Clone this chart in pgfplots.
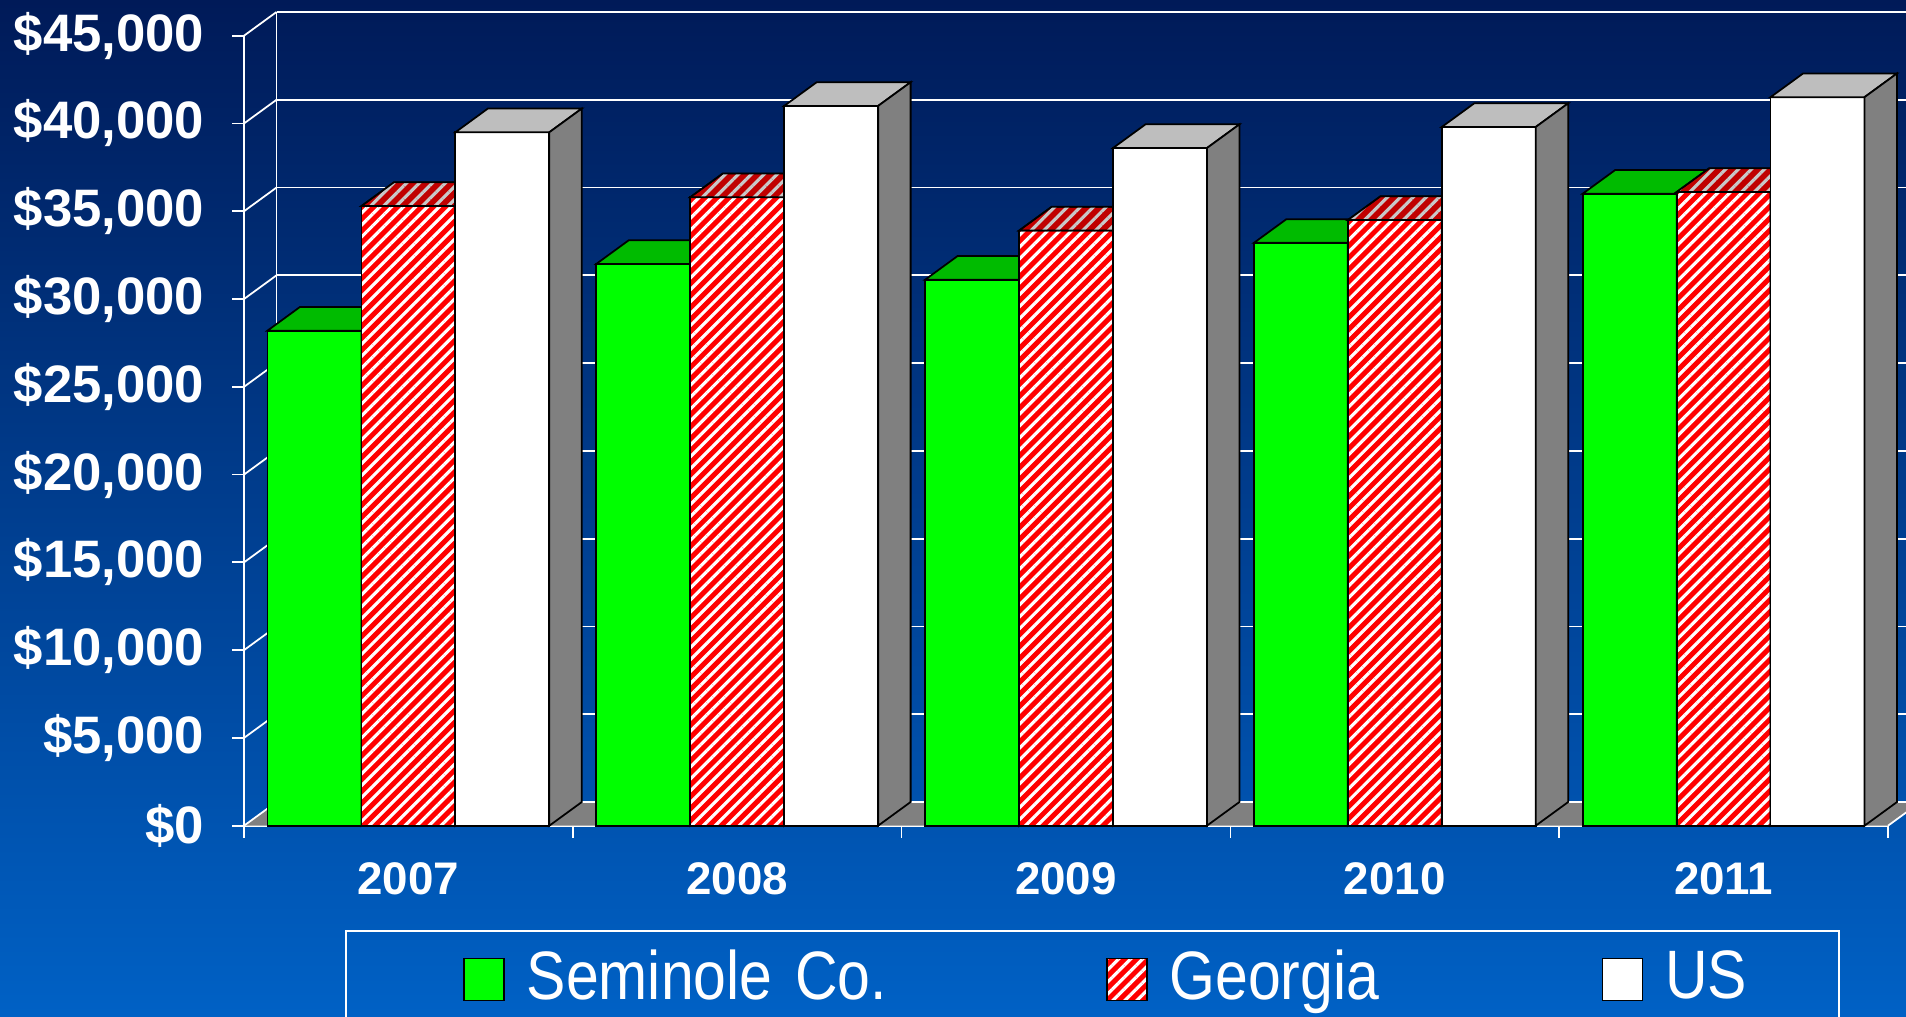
\documentclass[border=0pt]{standalone}
\usepackage{fontspec}
\setmainfont{Liberation Sans}
\newfontfamily\narrowfont[FakeStretch=0.86]{Liberation Sans}
\usepackage{pgfplots}
\pgfplotsset{compat=1.18}
\usepackage{pgfplotstable}
\usetikzlibrary{patterns.meta}

\definecolor{bgtop}{RGB}{0,26,88}
\definecolor{bgbot}{RGB}{0,97,197}
\definecolor{brgreen}{RGB}{0,255,0}
\definecolor{topgreen}{RGB}{0,187,0}
\definecolor{sidegreen}{RGB}{0,140,0}
\definecolor{brred}{RGB}{255,0,0}
\definecolor{topred}{RGB}{192,0,0}
\definecolor{stripetop}{RGB}{200,200,200}
\definecolor{topgray}{RGB}{190,190,190}
\definecolor{sidegray}{RGB}{128,128,128}
\definecolor{floorgray}{RGB}{128,128,128}

\pgfplotstableread{
idx v
0 28200
1 32000
2 31100
3 33200
4 36000
}\seminole
\pgfplotstableread{
idx v
0 35300
1 35800
2 33900
3 34500
4 36100
}\georgia
\pgfplotstableread{
idx v
0 39500
1 41000
2 38600
3 39800
4 41500
}\us

\def\hw{0.4697}
\def\ddx{0.325}
\def\ddy{0.237}

\tikzset{
  redstripes/.style={preaction={fill=brred},pattern={Lines[angle=45,distance=2.4pt,line width=0.9pt]},pattern color=white},
  topstripes/.style={preaction={fill=topred},pattern={Lines[angle=45,distance=2.6pt,line width=0.9pt]},pattern color=stripetop},
  barline/.style={draw=black,line width=0.5pt},
}

\pgfplotsset{
  bar3d/.style n args={3}{%
    scatter, only marks, mark=*, mark size=0pt,
    mark options={draw=none,fill=none},
    visualization depends on={\thisrow{v} \as \barval},
    scatter/@pre marker code/.code={%
      \begingroup
      \pgfkeys{/pgf/fpu=true,/pgf/fpu/output format=fixed}%
      \pgfmathparse{\barval*7.90/45000}%
      \xdef\barh{\pgfmathresult cm}%
      \endgroup
      \path[#1] (-\hw cm,0pt) rectangle (\hw cm,-\barh);
      \path[#2] (-\hw cm,0pt) -- (\hw cm,0pt) -- (\hw cm+\ddx cm,\ddy cm) -- (-\hw cm+\ddx cm,\ddy cm) -- cycle;
      \path[#3] (\hw cm,0pt) -- (\hw cm+\ddx cm,\ddy cm) -- (\hw cm+\ddx cm,\ddy cm-\barh) -- (\hw cm,-\barh) -- cycle;
    },
    scatter/@post marker code/.code={},
  },
}

\begin{document}
\begin{tikzpicture}
\shade[top color=bgtop, bottom color=bgbot] (0,0) rectangle (19.06cm,10.16cm);
\begin{axis}[
  scale only axis, width=16.44cm, height=7.90cm,
  at={(2.44cm,1.903cm)}, anchor=south west,
  xmin=0, xmax=5, ymin=0, ymax=45000,
  scaled y ticks=false,
  clip=false,
  axis lines*=left,
  axis line style={white, line width=0.5pt},
  tick style={white, line width=0.5pt},
  tick align=outside,
  major tick length=0.12cm,
  xtick={0,1,2,3,4,5}, xticklabels={},
  extra x ticks={0.5,1.5,2.5,3.5,4.5},
  extra x tick labels={2007,2008,2009,2010,2011},
  extra x tick style={major tick length=0pt},
  xticklabel style={anchor=base, yshift=-0.69cm, inner sep=0pt, text=white, font=\fontsize{13}{16}\selectfont\bfseries},
  ytick={0,5000,10000,15000,20000,25000,30000,35000,40000,45000},
  yticklabels={{\$0},{\$5,000},{\$10,000},{\$15,000},{\$20,000},{\$25,000},{\$30,000},{\$35,000},{\$40,000},{\$45,000}},
  yticklabel style={anchor=east, xshift=-0.27cm, inner sep=0pt, text=white, font=\fontsize{15}{18}\selectfont\bfseries},
  legend columns=3,
  legend cell align=left,
  legend style={at={(axis description cs:0.1332,-0.1917)}, anchor=west, draw=none, fill=none,
    inner sep=0pt, outer sep=0pt,
    nodes={inner sep=0pt, outer sep=0pt, text=white, font=\narrowfont\fontsize{19.5}{22}\selectfont},
    /tikz/every odd column/.append style={column sep=0.22cm},
    /tikz/column 2/.style={text width=5.79cm},
    /tikz/column 4/.style={text width=4.32cm}},
]
% floor
\fill[floorgray] (axis cs:0,0) -- (axis cs:5,0) -- ++(\ddx cm,\ddy cm) -- ([shift={(\ddx cm,\ddy cm)}]axis cs:0,0) -- cycle;
% walls and grid
\pgfplotsinvokeforeach{0,5000,10000,15000,20000,25000,30000,35000,40000,45000}{
  \draw[white, line width=0.5pt] ([shift={(\ddx cm,\ddy cm)}]axis cs:0,#1) -- ([shift={(\ddx cm,\ddy cm)}]axis cs:5,#1);
  \draw[white, line width=0.5pt] (axis cs:0,#1) -- ++(\ddx cm,\ddy cm);
}
\draw[white, line width=0.5pt] ([shift={(\ddx cm,\ddy cm)}]axis cs:0,0) -- ([shift={(\ddx cm,\ddy cm)}]axis cs:0,45000);
\draw[white, line width=0.5pt] (axis cs:5,0) -- ++(\ddx cm,\ddy cm);

\addplot[bar3d={fill=brgreen,barline}{fill=topgreen,barline}{fill=sidegreen,barline},
  legend image code/.code={\path[draw=none,fill=none] (-0.0088cm,-0.1518cm) rectangle (0.4088cm,0.2858cm);
    \path[overlay,fill=brgreen,barline] (0cm,-0.228cm) rectangle (0.40cm,0.192cm);}]
  table[x expr=\thisrow{idx}+0.5-0.285714, y=v] {\seminole};
\addlegendentry{Seminole Co.}

\addplot[bar3d={redstripes,barline}{topstripes,barline}{topstripes,barline},
  legend image code/.code={\path[draw=none,fill=none] (-0.0088cm,-0.1518cm) rectangle (0.4088cm,0.2858cm);
    \path[overlay,redstripes,barline] (0cm,-0.228cm) rectangle (0.40cm,0.192cm);}]
  table[x expr=\thisrow{idx}+0.5, y=v] {\georgia};
\addlegendentry{Georgia}

\addplot[bar3d={fill=white,barline}{fill=topgray,barline}{fill=sidegray,barline},
  legend image code/.code={\path[draw=none,fill=none] (-0.0088cm,-0.1518cm) rectangle (0.4088cm,0.2858cm);
    \path[overlay,fill=white,barline] (0cm,-0.228cm) rectangle (0.40cm,0.192cm);}]
  table[x expr=\thisrow{idx}+0.5+0.285714, y=v] {\us};
\addlegendentry{US}
\end{axis}
\draw[white, line width=0.5pt] (3.46cm,-0.5cm) rectangle (18.39cm,0.85cm);
\pgfresetboundingbox
\path[use as bounding box] (0,0) rectangle (19.06cm,10.16cm);
\end{tikzpicture}
\end{document}
